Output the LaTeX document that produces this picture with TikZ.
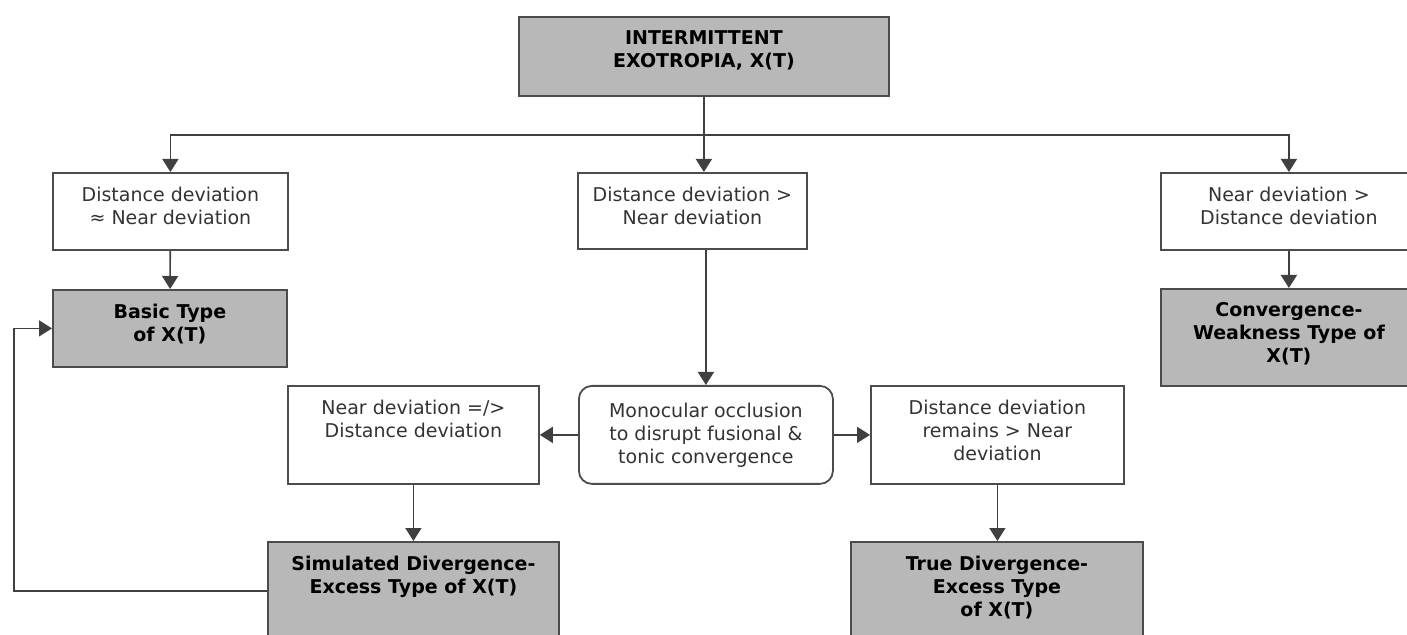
\documentclass[tikz,border=0pt]{standalone}
\usepackage{fontspec}
\setmainfont{DejaVu Sans}
\usetikzlibrary{arrows.meta, positioning, calc}

% top-aligned text inside a box of fixed size
\newcommand{\boxbody}[3]{\parbox[c][#2][t]{#1}{\centering\vspace*{7pt}#3}}

\begin{document}
\begin{tikzpicture}[x=0.5pt, y=-0.5pt, >={Triangle[width=8pt,length=6.5pt]},
  plain/.style={draw=black!70, line width=0.9pt, inner sep=0pt, anchor=north west, text=black!80, font=\fontsize{9.5}{11.5}\selectfont},
  shaded/.style={plain, fill=black!28, text=black, font=\fontsize{9.5}{11.5}\selectfont\bfseries},
  link/.style={draw=black!75, line width=0.8pt}]
  \useasboundingbox (0,0) rectangle (1407,635);
  \clip (0,0) rectangle (1407,635);

  \node[shaded] (top) at (518,16) {\boxbody{185pt}{39.5pt}{INTERMITTENT\\EXOTROPIA, X(T)}};

  \node[plain] (equal) at (52,172) {\boxbody{117.5pt}{38.5pt}{Distance deviation\\≈ Near deviation}};
  \node[plain] (distgt) at (577,172) {\boxbody{114.5pt}{38pt}{Distance deviation >\\Near deviation}};
  \node[plain] (neargt) at (1160,172) {\boxbody{128pt}{38.5pt}{Near deviation >\\Distance deviation}};

  \node[shaded] (basic) at (52,289) {\boxbody{117pt}{38.5pt}{Basic Type\\of X(T)}};
  \node[shaded] (conv) at (1160,288) {\boxbody{128pt}{48.5pt}{Convergence-\\Weakness Type of\\X(T)}};

  \node[plain, rounded corners=6.5pt, minimum width=127pt, minimum height=49pt, align=center] (occl) at (578,385) {Monocular occlusion\\to disrupt fusional \&\\tonic convergence};
  \node[plain] (nearge) at (287,385) {\boxbody{125.5pt}{49pt}{Near deviation =/>\\Distance deviation}};
  \node[plain] (remains) at (870,385) {\boxbody{126.5pt}{49pt}{Distance deviation\\remains > Near\\deviation}};

  \node[shaded] (simde) at (267,541) {\boxbody{145.5pt}{49pt}{Simulated Divergence-\\Excess Type of X(T)}};
  \node[shaded] (truede) at (850,541) {\boxbody{146pt}{49pt}{True Divergence-\\Excess Type\\of X(T)}};

  \coordinate (bus) at ($(top.south)+(0,38)$);
  \coordinate (loop) at (14,0);

  \draw[link] (top.south) -- (bus);
  \draw[link,->] (bus) -| (equal.north);
  \draw[link,->] (bus) -| (neargt.north);
  \draw[link,->] (bus) -- (bus |- distgt.north);
  \draw[link,->] (equal) -- (basic);
  \draw[link,->] (neargt.south) -- (conv.north);
  \draw[link,->] (occl.north |- distgt.south) -- (occl.north);
  \draw[link,->] (occl.west) -- (nearge.east);
  \draw[link,->] (occl.east) -- (remains.west);
  \draw[link,->] (nearge.south) -- (simde.north);
  \draw[link,->] (remains.south) -- (remains.south |- truede.north);
  \draw[link,->] (simde.west) -| (loop |- basic.west) -- (basic.west);
\end{tikzpicture}
\end{document}
